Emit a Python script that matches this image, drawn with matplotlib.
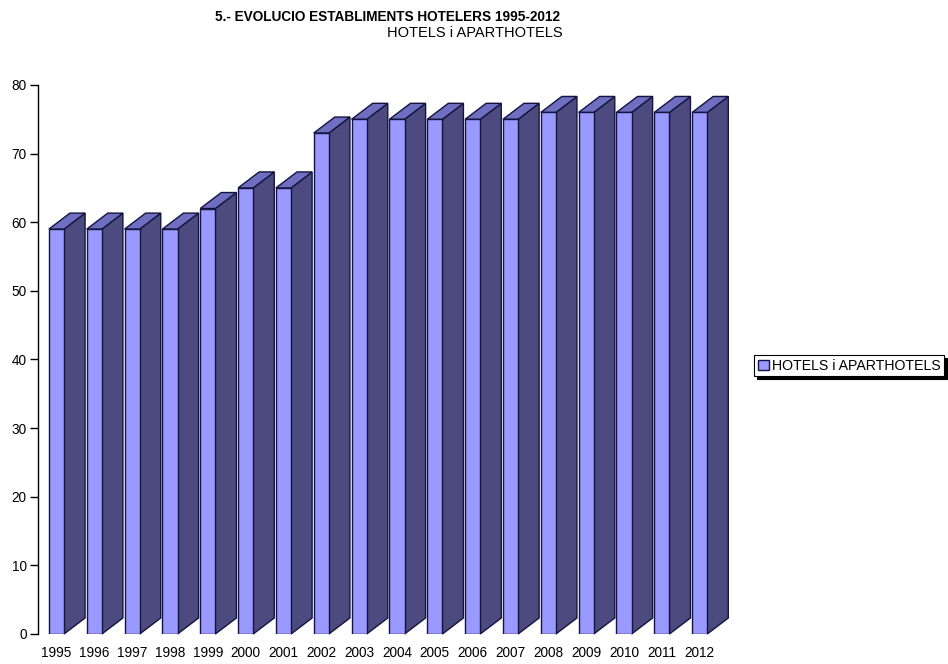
import matplotlib.pyplot as plt
from matplotlib.patches import Polygon, Patch

years = [str(y) for y in range(1995, 2013)]
hotels = [59, 59, 59, 59, 62, 65, 65, 73, 75, 75, 75, 75, 75, 76, 76, 76, 76, 76]

FRONT = '#9999FF'
SIDE = '#4C4A7E'
TOP = '#6F6EC0'
EDGE = '#141440'

plt.rcParams['font.family'] = ['Liberation Sans', 'DejaVu Sans']

fig = plt.figure(figsize=(9.48, 6.64), dpi=100)
ax = fig.add_axes([0.040, 0.0452, 0.730, 0.8268])

w = 0.4       # front face width (category units)
dx = 0.556    # depth in x
dy = 2.33     # depth in y

xs = list(range(len(years)))
ax.bar(xs, hotels, width=w, color=FRONT, edgecolor=EDGE, linewidth=1, zorder=3)
for x, v in zip(xs, hotels):
    r = x + w / 2
    l = x - w / 2
    side = Polygon([(r, 0), (r + dx, dy), (r + dx, v + dy), (r, v)],
                   closed=True, facecolor=SIDE, edgecolor=EDGE, linewidth=1,
                   zorder=2, clip_on=False)
    top = Polygon([(l, v), (r, v), (r + dx, v + dy), (l + dx, v + dy)],
                  closed=True, facecolor=TOP, edgecolor=EDGE, linewidth=1,
                  zorder=2, clip_on=False)
    ax.add_patch(side)
    ax.add_patch(top)

ax.set_xlim(-0.49, 17.8)
ax.set_ylim(0, 80)
ax.set_yticks(range(0, 81, 10))
ax.set_xticks(xs)
ax.set_xticklabels(years, fontsize=9.8)
ax.tick_params(axis='x', length=0, pad=9)
ax.tick_params(axis='y', length=6, width=1, labelsize=9.8, pad=2)
for s in ['top', 'right', 'bottom']:
    ax.spines[s].set_visible(False)
ax.spines['left'].set_linewidth(1)

fig.text(0.2268, 0.975, "5.- EVOLUCIO ESTABLIMENTS HOTELERS 1995-2012",
         fontsize=9.8, fontweight='bold', ha='left', va='center')
fig.text(0.593, 0.951, "HOTELS i APARTHOTELS", fontsize=10.5, ha='right', va='center')

handle = Patch(facecolor=FRONT, edgecolor=EDGE, linewidth=1)
leg = fig.legend([handle], ["HOTELS i APARTHOTELS"], loc='center',
                 bbox_to_anchor=(0.896, 0.449), fontsize=10.2, fancybox=False,
                 shadow={'color': 'black', 'alpha': 1}, handlelength=0.8,
                 handleheight=0.8, handletextpad=0.2, borderpad=0.25,
                 borderaxespad=0)
leg.get_frame().set_edgecolor('black')
leg.get_frame().set_linewidth(0.8)
leg.get_frame().set_alpha(1)

fig.savefig('out.png', dpi=100)
